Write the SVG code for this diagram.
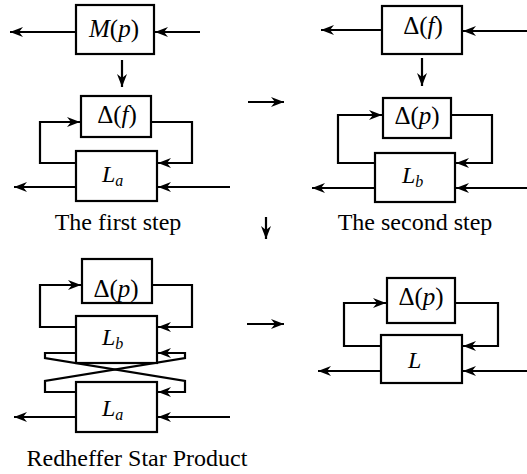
<svg xmlns="http://www.w3.org/2000/svg" width="527" height="474" viewBox="0 0 527 474">
<style>
.box{fill:#fff;stroke:#000;stroke-width:2.2}
.ln{fill:none;stroke:#000;stroke-width:2.2;marker-end:url(#ah)}
</style>
<defs>
<marker id="ah" markerUnits="userSpaceOnUse" markerWidth="16" markerHeight="12" viewBox="-14 -6 15 12" refX="0" refY="0" orient="auto">
<path d="M0,0 L-13,-5 L-9,0 L-13,5 Z" fill="#000"/>
</marker>
</defs>
<g id="connectors">
<path class="ln" d="M76,32 H10"/>
<path class="ln" d="M200,32 H155"/>
<path class="ln" d="M122,60 V87"/>
<path class="ln" d="M76,163 H40 V122 H80"/>
<path class="ln" d="M151,122 H192 V163 H158"/>
<path class="ln" d="M76,187 H14"/>
<path class="ln" d="M230,187 H158"/>
<path class="ln" d="M382,30 H321"/>
<path class="ln" d="M527,31 H463"/>
<path class="ln" d="M422,58 V86"/>
<path class="ln" d="M375,163 H338 V115 H382"/>
<path class="ln" d="M451,115 H492 V163 H456"/>
<path class="ln" d="M375,188 H312"/>
<path class="ln" d="M527,188 H456"/>
<path class="ln" d="M248,102 H284"/>
<path class="ln" d="M266,217 V239"/>
<path class="ln" d="M247,324 H284"/>
<path class="ln" d="M76,327 H40 V285 H81"/>
<path class="ln" d="M152,285 H192 V327 H158"/>
<path class="ln" d="M76,353 H45 V358 L185,381 V392 H158"/>
<path class="ln" d="M76,392 H45 V381 L185,358 V353 H158"/>
<path class="ln" d="M76,417 H14"/>
<path class="ln" d="M230,417 H158"/>
<path class="ln" d="M381,346 H344 V303 H386"/>
<path class="ln" d="M455,303 H498 V346 H463"/>
<path class="ln" d="M381,371 H318"/>
<path class="ln" d="M527,371 H463"/>
</g>
<g id="Mp"><rect class="box" x="76" y="5" width="78" height="49"/><text x="114" y="37" font-size="25" font-family="Liberation Serif" text-anchor="middle"><tspan font-style="italic">M</tspan>(<tspan font-style="italic">p</tspan>)</text></g>
<g id="Df1"><rect class="box" x="81" y="96" width="70" height="41"/><text x="117" y="123" font-size="25" font-family="Liberation Serif" text-anchor="middle">&#916;(<tspan font-style="italic">f</tspan>)</text></g>
<g id="La1"><rect class="box" x="76" y="151" width="81" height="50"/><text x="102" y="182" font-size="24" font-family="Liberation Serif" font-style="italic">L<tspan font-size="16" dy="4">a</tspan></text></g>
<g id="Df2"><rect class="box" x="382" y="6" width="80" height="48"/><text x="423" y="34" font-size="25" font-family="Liberation Serif" text-anchor="middle">&#916;(<tspan font-style="italic">f</tspan>)</text></g>
<g id="Dp1"><rect class="box" x="383" y="98" width="68" height="40"/><text x="417" y="124" font-size="25" font-family="Liberation Serif" text-anchor="middle">&#916;(<tspan font-style="italic">p</tspan>)</text></g>
<g id="Lb1"><rect class="box" x="375" y="153" width="80" height="49"/><text x="402" y="183" font-size="24" font-family="Liberation Serif" font-style="italic">L<tspan font-size="16" dy="4">b</tspan></text></g>
<g id="Dp2"><rect class="box" x="82" y="259" width="70" height="44"/><text x="116" y="297" font-size="25" font-family="Liberation Serif" text-anchor="middle">&#916;(<tspan font-style="italic">p</tspan>)</text></g>
<g id="Lb2"><rect class="box" x="76" y="316" width="81" height="47"/><text x="102" y="345" font-size="24" font-family="Liberation Serif" font-style="italic">L<tspan font-size="16" dy="4">b</tspan></text></g>
<g id="La2"><rect class="box" x="76" y="382" width="81" height="50"/><text x="102" y="416" font-size="24" font-family="Liberation Serif" font-style="italic">L<tspan font-size="16" dy="4">a</tspan></text></g>
<g id="Dp3"><rect class="box" x="387" y="278" width="68" height="45"/><text x="421" y="305" font-size="25" font-family="Liberation Serif" text-anchor="middle">&#916;(<tspan font-style="italic">p</tspan>)</text></g>
<g id="L"><rect class="box" x="381" y="335" width="81" height="48"/><text x="408" y="368" font-size="24" font-family="Liberation Serif" font-style="italic">L</text></g>
<g id="captions">
<text x="118" y="230" font-size="24" font-family="Liberation Serif" text-anchor="middle">The first step</text>
<text x="415" y="230" font-size="24" font-family="Liberation Serif" text-anchor="middle">The second step</text>
<text x="137" y="466" font-size="24" font-family="Liberation Serif" text-anchor="middle">Redheffer Star Product</text>
</g>
</svg>
